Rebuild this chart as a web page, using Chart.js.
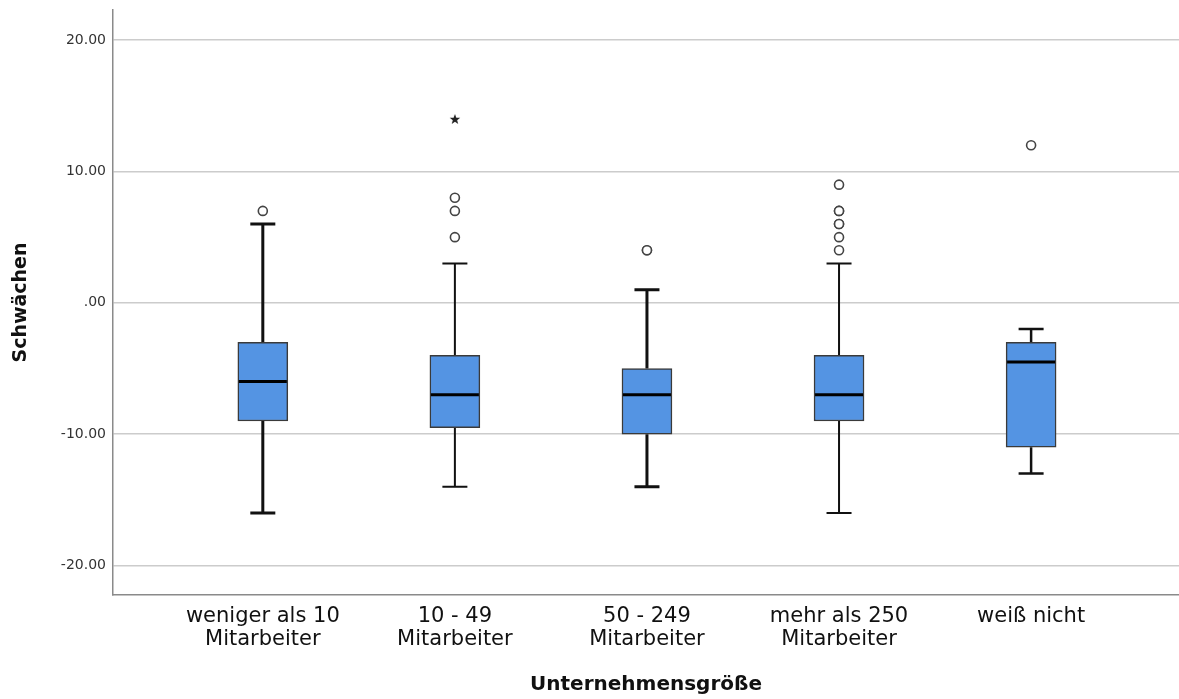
<!DOCTYPE html>
<html>
<head>
<meta charset="utf-8">
<script src="https://cdn.jsdelivr.net/npm/chart.js"></script>
<style>
  html, body { margin: 0; padding: 0; background: #fff; }
  #wrap { width: 1179px; height: 699px; }
</style>
</head>
<body>
<div id="wrap"><canvas id="chart" width="1179" height="699"></canvas></div>
<script>
// Kategorien (Unternehmensgröße)
const categories = [
    ['weniger als 10', 'Mitarbeiter'],
    ['10 - 49', 'Mitarbeiter'],
    ['50 - 249', 'Mitarbeiter'],
    ['mehr als 250', 'Mitarbeiter'],
    ['weiß nicht']
];

// Boxplot-Kennwerte je Gruppe
const whiskerLow  = [-16, -14, -14, -16, -13];
const q1Values    = [-9, -9.5, -10, -9, -11];
const medians     = [-6, -7, -7, -7, -4.5];
const q3Values    = [-3, -4, -5, -4, -3];
const whiskerHigh = [6, 3, 1, 3, -2];

// Ausreißer (o) und Extremwerte (*)
const outliers = [
    [7],
    [5, 7, 8],
    [4, 4],
    [4, 5, 6, 6, 7, 7, 9],
    [12]
];
const extremes = [
    [],
    [14],
    [],
    [],
    []
];

const yTicks = [-20, -10, 0, 10, 20];

// Stern-Symbol fuer Extremwerte
function makeStar() {
    const c = document.createElement('canvas');
    c.width = 12; c.height = 12;
    const g = c.getContext('2d');
    g.fillStyle = '#222';
    g.beginPath();
    for (let i = 0; i < 10; i++) {
        const r = i % 2 === 0 ? 5.5 : 2.3;
        const a = -Math.PI / 2 + i * Math.PI / 5;
        const px = 6 + r * Math.cos(a), py = 6.5 + r * Math.sin(a);
        if (i === 0) g.moveTo(px, py); else g.lineTo(px, py);
    }
    g.closePath();
    g.fill();
    return c;
}

const boxData = categories.map((c, i) => ({ x: i, y: [q1Values[i], q3Values[i]] }));
const outlierData = [];
outliers.forEach((vals, i) => vals.forEach(v => outlierData.push({ x: i, y: v })));
const extremeData = [];
extremes.forEach((vals, i) => vals.forEach(v => extremeData.push({ x: i, y: v })));

// Whisker und Median ueber die Skalen zeichnen
const boxPlugin = {
    id: 'boxParts',
    beforeDatasetsDraw(chart, args, opts) {
        const { ctx, scales: { x, y } } = chart;
        ctx.save();
        ctx.strokeStyle = '#111';
        categories.forEach((c, i) => {
            const cx = x.getPixelForValue(i);
            ctx.lineWidth = opts.widths[i];
            const half = opts.capWidth / 2;
            ctx.beginPath();
            ctx.moveTo(cx, y.getPixelForValue(q3Values[i]));
            ctx.lineTo(cx, y.getPixelForValue(whiskerHigh[i]));
            ctx.moveTo(cx, y.getPixelForValue(q1Values[i]));
            ctx.lineTo(cx, y.getPixelForValue(whiskerLow[i]));
            ctx.moveTo(cx - half, y.getPixelForValue(whiskerHigh[i]));
            ctx.lineTo(cx + half, y.getPixelForValue(whiskerHigh[i]));
            ctx.moveTo(cx - half, y.getPixelForValue(whiskerLow[i]));
            ctx.lineTo(cx + half, y.getPixelForValue(whiskerLow[i]));
            ctx.stroke();
        });
        ctx.restore();
    },
    afterDatasetDraw(chart, args, opts) {
        if (args.index !== 0) return;
        const { ctx, scales: { x, y } } = chart;
        ctx.save();
        ctx.strokeStyle = '#000';
        ctx.lineWidth = 3;
        categories.forEach((c, i) => {
            const cx = x.getPixelForValue(i);
            const my = y.getPixelForValue(medians[i]);
            ctx.beginPath();
            ctx.moveTo(cx - opts.boxWidth / 2 + 1, my);
            ctx.lineTo(cx + opts.boxWidth / 2 - 1, my);
            ctx.stroke();
        });
        ctx.restore();
    }
};

const ctx = document.getElementById('chart').getContext('2d');
new Chart(ctx, {
    type: 'bar',
    data: {
        datasets: [
            {
                type: 'bar',
                data: boxData,
                backgroundColor: '#5494e3',
                borderColor: '#3a3a3a',
                borderWidth: 1.5,
                borderSkipped: false,
                barThickness: 50,
                order: 2
            },
            {
                type: 'scatter',
                data: outlierData,
                pointStyle: 'circle',
                radius: 4.5,
                backgroundColor: '#ffffff',
                borderColor: '#444',
                borderWidth: 1.6,
                order: 1
            },
            {
                type: 'scatter',
                data: extremeData,
                pointStyle: makeStar(),
                order: 1
            }
        ]
    },
    options: {
        responsive: false,
        animation: false,
        layout: { autoPadding: false, padding: { top: 10, right: 0, left: 0, bottom: 0 } },
        plugins: {
            legend: { display: false },
            tooltip: { enabled: false },
            boxParts: { widths: [3, 2, 3, 2, 2.5], capWidth: 25, boxWidth: 50 }
        },
        scales: {
            x: {
                type: 'linear',
                offset: false,
                min: -0.78,
                max: 4.77,
                afterBuildTicks: scale => { scale.ticks = categories.map((c, i) => ({ value: i })); },
                afterFit: scale => {
                    scale.height = 104;
                    scale.paddingLeft = 0;
                    scale.paddingRight = 0;
                },
                grid: { display: false, drawTicks: false, offset: false },
                border: { display: true, color: '#8a8a8a', width: 1.5 },
                ticks: {
                    callback: v => categories[v],
                    color: '#111',
                    padding: 10,
                    maxRotation: 0,
                    autoSkip: false,
                    font: { family: 'DejaVu Sans', size: 21, lineHeight: 1.1 }
                },
                title: {
                    display: true,
                    text: 'Unternehmensgröße',
                    color: '#111',
                    padding: { top: 0, bottom: 2 },
                    font: { family: 'DejaVu Sans', size: 20, weight: 'bold' }
                }
            },
            y: {
                min: -22.25,
                max: 22.3,
                afterBuildTicks: scale => { scale.ticks = yTicks.map(v => ({ value: v })); },
                afterFit: scale => {
                    scale.width = 113;
                    scale.paddingTop = 0;
                    scale.paddingBottom = 0;
                },
                grid: { color: '#cccccc', lineWidth: 1.5, drawTicks: false },
                border: { display: true, color: '#8a8a8a', width: 1.5 },
                ticks: {
                    callback: v => v === 0 ? '.00' : v.toFixed(2),
                    color: '#333',
                    padding: 7,
                    font: { family: 'DejaVu Sans', size: 14 }
                },
                title: {
                    display: true,
                    text: 'Schwächen',
                    color: '#111',
                    padding: { top: 10, bottom: 0 },
                    font: { family: 'DejaVu Sans', size: 19, weight: 'bold' }
                }
            }
        }
    },
    plugins: [boxPlugin]
});
</script>
</body>
</html>
